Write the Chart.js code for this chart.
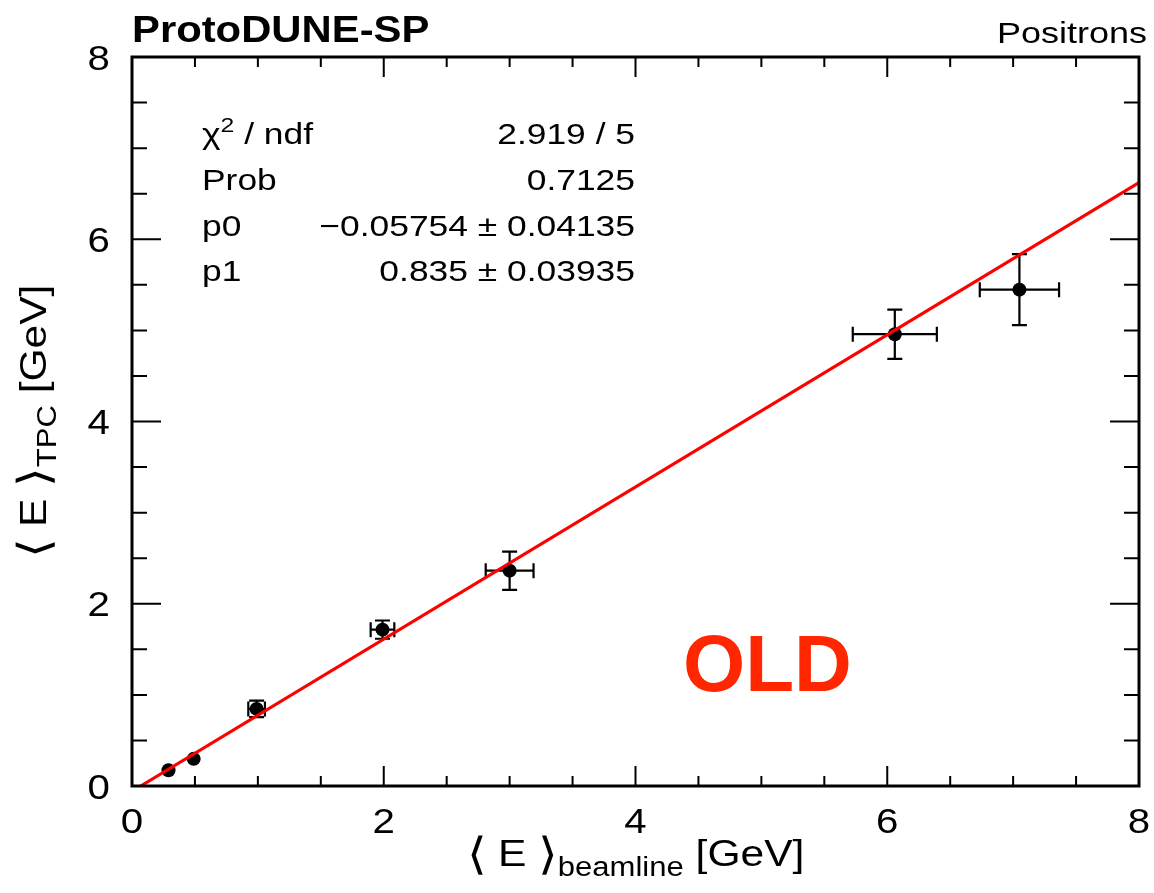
<!DOCTYPE html>
<html>
<head>
<meta charset="utf-8">
<script src="https://cdn.jsdelivr.net/npm/chart.js@4/dist/chart.umd.min.js"></script>
<style>
  html, body { margin: 0; padding: 0; background: #fff; }
  #c { display: block; }
</style>
</head>
<body>
<canvas id="c" width="1154" height="893"></canvas>
<script>
// Mean energy measured in the TPC versus beamline energy (positrons)
const beamEnergy    = [0.29, 0.49, 0.99, 1.99, 3.00, 6.06, 7.05];
const beamEnergyErr = [0.03, 0.03, 0.066, 0.094, 0.19, 0.334, 0.315];
const tpcEnergy     = [0.173, 0.298, 0.846, 1.716, 2.363, 4.958, 5.447];
const tpcEnergyErr  = [0.04, 0.04, 0.09, 0.10, 0.21, 0.27, 0.39];

// Linear fit result: E_TPC = p0 + p1 * E_beamline
const fitP0 = -0.05754;
const fitP1 = 0.835;

const statLabels = ['χ2 / ndf', 'Prob', 'p0', 'p1'];
const statValues = ['2.919 / 5', '0.7125', '−0.05754 ± 0.04135', '0.835 ± 0.03935'];

const xTicks = [0, 2, 4, 6, 8];
const yTicks = [0, 2, 4, 6, 8];
const minorStep = 0.5;
const axisMin = 0, axisMax = 8;

const FONT = '"Liberation Sans", Arial, Helvetica, sans-serif';
const TEXT_SX = 1.2;   // horizontally widened lettering
const MARKER_R = 7;

function drawRuns(ctx, runs, x, y, align, sx, angle) {
  // runs: [{text, size, bold, dy}]
  let total = 0;
  for (const r of runs) {
    ctx.font = (r.bold ? 'bold ' : '') + r.size + 'px ' + FONT;
    r.w = ctx.measureText(r.text).width * sx;
    total += r.w;
  }
  ctx.save();
  ctx.translate(x, y);
  if (angle) ctx.rotate(angle);
  let cx = align === 'center' ? -total / 2 : (align === 'right' ? -total : 0);
  ctx.textAlign = 'left';
  ctx.textBaseline = 'alphabetic';
  for (const r of runs) {
    ctx.save();
    ctx.translate(cx, r.dy || 0);
    ctx.scale(sx, 1);
    ctx.font = (r.bold ? 'bold ' : '') + r.size + 'px ' + FONT;
    ctx.fillStyle = r.color || '#000';
    ctx.fillText(r.text, 0, 0);
    ctx.restore();
    cx += r.w;
  }
  ctx.restore();
}

// error bars with end caps; bars hidden under the marker are skipped
const errorBars = {
  id: 'errorBars',
  beforeDatasetsDraw(chart) {
    const { ctx, scales: { x, y } } = chart;
    const cap = 7.5;
    ctx.save();
    ctx.strokeStyle = '#000';
    ctx.lineWidth = 2.2;
    for (let i = 0; i < beamEnergy.length; i++) {
      const px = x.getPixelForValue(beamEnergy[i]);
      const py = y.getPixelForValue(tpcEnergy[i]);
      const xl = x.getPixelForValue(beamEnergy[i] - beamEnergyErr[i]);
      const xr = x.getPixelForValue(beamEnergy[i] + beamEnergyErr[i]);
      const yt = y.getPixelForValue(tpcEnergy[i] + tpcEnergyErr[i]);
      const yb = y.getPixelForValue(tpcEnergy[i] - tpcEnergyErr[i]);
      ctx.beginPath();
      if (xr - px > MARKER_R) {
        ctx.moveTo(xl, py); ctx.lineTo(xr, py);
        ctx.moveTo(xl, py - cap); ctx.lineTo(xl, py + cap);
        ctx.moveTo(xr, py - cap); ctx.lineTo(xr, py + cap);
      }
      if (py - yt > MARKER_R) {
        ctx.moveTo(px, yt); ctx.lineTo(px, yb);
        ctx.moveTo(px - cap, yt); ctx.lineTo(px + cap, yt);
        ctx.moveTo(px - cap, yb); ctx.lineTo(px + cap, yb);
      }
      ctx.stroke();
    }
    ctx.restore();
  }
};

const frameAndText = {
  id: 'frameAndText',
  afterDraw(chart) {
    const { ctx, chartArea: a, scales: { x, y } } = chart;
    ctx.save();
    // ticks, pointing inward on all four sides
    ctx.strokeStyle = '#000';
    ctx.lineWidth = 2;
    ctx.beginPath();
    for (let v = axisMin; v <= axisMax + 1e-9; v += minorStep) {
      const major = xTicks.includes(v);
      const px = x.getPixelForValue(v);
      const lx = major ? 20 : 10;
      ctx.moveTo(px, a.bottom); ctx.lineTo(px, a.bottom - lx);
      ctx.moveTo(px, a.top); ctx.lineTo(px, a.top + lx);
      const py = y.getPixelForValue(v);
      const ly = yTicks.includes(v) ? 29 : 15;
      ctx.moveTo(a.left, py); ctx.lineTo(a.left + ly, py);
      ctx.moveTo(a.right, py); ctx.lineTo(a.right - ly, py);
    }
    ctx.stroke();
    // frame
    ctx.lineWidth = 3;
    ctx.strokeRect(a.left, a.top, a.right - a.left, a.bottom - a.top);

    // tick labels
    for (const v of xTicks) {
      drawRuns(ctx, [{ text: String(v), size: 35 }], x.getPixelForValue(v), a.bottom + 47, 'center', 1.15);
    }
    for (const v of yTicks) {
      drawRuns(ctx, [{ text: String(v), size: 35 }], a.left - 22, y.getPixelForValue(v) + 12.5, 'right', 1.15);
    }

    // axis titles
    const midX = (a.left + a.right) / 2;
    const midY = (a.top + a.bottom) / 2;
    drawRuns(ctx, [
      { text: '⟨', size: 44, dy: 3 },
      { text: ' E ', size: 37 },
      { text: '⟩', size: 44, dy: 3 },
      { text: 'beamline', size: 27, dy: 10 },
      { text: ' [GeV]', size: 37 }
    ], midX, 866, 'center', 1.15);
    drawRuns(ctx, [
      { text: '⟨', size: 44, dy: 3 },
      { text: ' E ', size: 37 },
      { text: '⟩', size: 44, dy: 3 },
      { text: 'TPC', size: 27, dy: 10 },
      { text: ' [GeV]', size: 37 }
    ], 46, midY, 'center', 1.15, -Math.PI / 2);

    // header
    drawRuns(ctx, [{ text: 'ProtoDUNE-SP', size: 37, bold: true }], a.left, 42, 'left', 1.13);
    drawRuns(ctx, [{ text: 'Positrons', size: 30 }], 1147, 43, 'right', TEXT_SX);

    // fit statistics
    const rowY = [144, 190, 236, 281];
    for (let i = 0; i < statLabels.length; i++) {
      const runs = i === 0
        ? [{ text: 'χ', size: 30 }, { text: '2', size: 21, dy: -12 }, { text: ' / ndf', size: 30 }]
        : [{ text: statLabels[i], size: 30 }];
      drawRuns(ctx, runs, 202, rowY[i], 'left', 1.18);
      drawRuns(ctx, [{ text: statValues[i], size: 30 }], 635, rowY[i], 'right', 1.18);
    }

    // stamp
    drawRuns(ctx, [{ text: 'OLD', size: 80, bold: true, color: 'rgb(255,38,0)' }], 683, 691, 'left', 1);
    ctx.restore();
  }
};

const points = beamEnergy.map((e, i) => ({ x: e, y: tpcEnergy[i] }));
const xStart = -fitP0 / fitP1;
const fitLine = [
  { x: xStart, y: fitP0 + fitP1 * xStart },
  { x: axisMax, y: fitP0 + fitP1 * axisMax }
];

new Chart(document.getElementById('c'), {
  type: 'scatter',
  data: {
    datasets: [
      {
        type: 'line',
        label: 'fit',
        data: fitLine,
        borderColor: '#ff0000',
        borderWidth: 3.2,
        pointRadius: 0,
        fill: false,
        tension: 0
      },
      {
        label: 'positrons',
        data: points,
        pointRadius: MARKER_R,
        pointBackgroundColor: '#000',
        pointBorderWidth: 0,
        pointHoverRadius: MARKER_R
      }
    ]
  },
  options: {
    responsive: false,
    animation: false,
    devicePixelRatio: 1,
    layout: { padding: { left: 132, top: 57, right: 15, bottom: 107 } },
    plugins: { legend: { display: false }, tooltip: { enabled: false } },
    events: [],
    scales: {
      x: { type: 'linear', min: axisMin, max: axisMax, display: false },
      y: { type: 'linear', min: axisMin, max: axisMax, display: false }
    }
  },
  plugins: [errorBars, frameAndText]
});
</script>
</body>
</html>
